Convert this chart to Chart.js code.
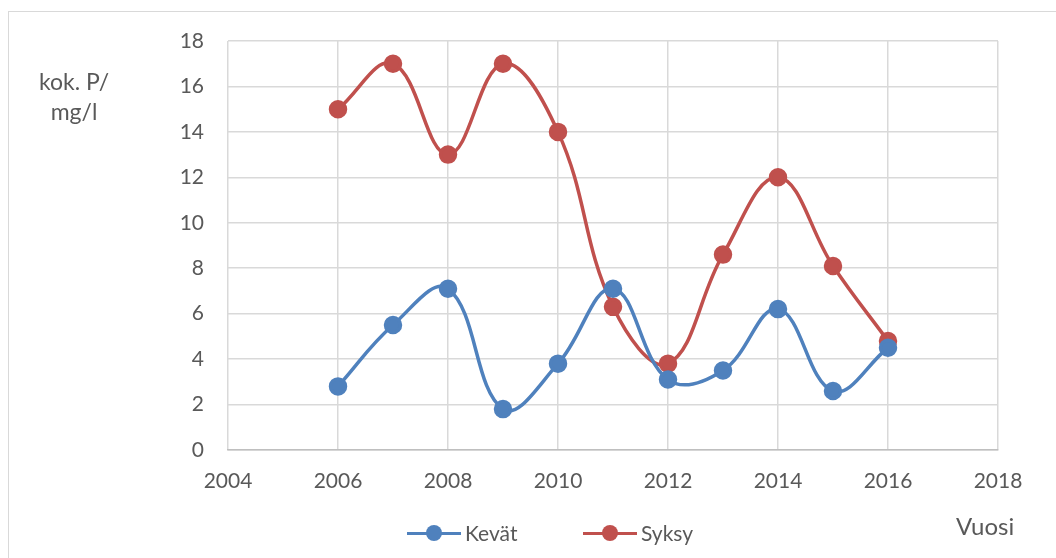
<!DOCTYPE html>
<html>
<head>
<meta charset="utf-8">
<script src="https://cdn.jsdelivr.net/npm/chart.js@4/dist/chart.umd.min.js"></script>
<style>
  html, body { margin: 0; padding: 0; background: #fff; }
  #wrap { position: relative; width: 1056px; height: 558px; overflow: hidden; font-family: Lato, "Open Sans", sans-serif; color: #595959; }
  #frame { position: absolute; left: 8px; top: 11px; width: 1100px; height: 600px; border-top: 1px solid #d9d9d9; border-left: 1px solid #d9d9d9; }
  canvas { position: absolute; left: 0; top: 0; }
  .ytitle { position: absolute; left: 18px; top: 66px; width: 112px; text-align: center; font-size: 23px; line-height: 30px; }
  .xtitle { position: absolute; left: 956px; top: 511px; font-size: 24px; line-height: 30px; }
  #legend { position: absolute; top: 520px; left: 0; width: 1056px; height: 28px; }
  .item { position: absolute; top: 0; height: 28px; font-size: 21px; line-height: 28px; }
  .item .ln { position: absolute; left: 0; top: 12px; width: 54px; height: 3px; }
  .item .dot { position: absolute; left: 19px; top: 5px; width: 16px; height: 16px; border-radius: 50%; }
  .item .tx { position: absolute; left: 58px; top: -1px; white-space: nowrap; }
</style>
</head>
<body>
<div id="wrap">
  <div id="frame"></div>
  <canvas id="c" width="1056" height="558"></canvas>
  <div class="ytitle">kok. P/<br>mg/l</div>
  <div class="xtitle">Vuosi</div>
  <div id="legend"></div>
</div>
<script>
// Sampling years and total phosphorus readings (mg/l)
const years = [2006, 2007, 2008, 2009, 2010, 2011, 2012, 2013, 2014, 2015, 2016];
const kevat = [2.8, 5.5, 7.1, 1.8, 3.8, 7.1, 3.1, 3.5, 6.2, 2.6, 4.5];
const syksy = [15.0, 17.0, 13.0, 17.0, 14.0, 6.3, 3.8, 8.6, 12.0, 8.1, 4.8];
const seriesNames = ['Kevät', 'Syksy'];
const seriesColors = ['#4f81bd', '#c0504d'];
const xRange = [2004, 2018];
const yRange = [0, 18];

function toPoints(vals) {
  return years.map((y, i) => ({ x: y, y: vals[i] }));
}

const datasets = [kevat, syksy].map((vals, i) => ({
  label: seriesNames[i],
  data: toPoints(vals),
  borderColor: seriesColors[i],
  backgroundColor: seriesColors[i],
  pointBackgroundColor: seriesColors[i],
  pointBorderColor: seriesColors[i],
  borderWidth: 3.5,
  pointRadius: 7.5,
  pointHoverRadius: 7.5,
  tension: 0.4,
  fill: false
}));

const tickFont = { family: 'Lato, "Open Sans", sans-serif', size: 21 };

const chart = new Chart(document.getElementById('c'), {
  type: 'line',
  data: { datasets },
  options: {
    responsive: false,
    animation: false,
    layout: { autoPadding: false, padding: { left: 0, right: 58, top: 41, bottom: 68 } },
    plugins: { legend: { display: false }, tooltip: { enabled: false } },
    scales: {
      x: {
        type: 'linear',
        min: xRange[0], max: xRange[1],
        ticks: { stepSize: 2, color: '#595959', font: tickFont, padding: 19, callback: v => String(v) },
        grid: { color: '#d9d9d9', lineWidth: 1.5, drawTicks: false },
        border: { color: '#bfbfbf', width: 1.5 },
        afterFit: s => { s.height = 40; }
      },
      y: {
        min: yRange[0], max: yRange[1],
        ticks: { stepSize: 2, color: '#595959', font: tickFont, padding: 24 },
        grid: { color: '#d9d9d9', lineWidth: 1.5, drawTicks: false },
        border: { display: false },
        afterFit: s => { s.width = 228; }
      }
    }
  }
});

// Legend built from the chart's own datasets
const legend = document.getElementById('legend');
const starts = [407, 583];
chart.data.datasets.forEach((ds, i) => {
  const it = document.createElement('div');
  it.className = 'item';
  it.style.left = starts[i] + 'px';
  it.innerHTML = '<div class="ln" style="background:' + ds.borderColor + '"></div>' +
    '<div class="dot" style="background:' + ds.borderColor + '"></div>' +
    '<div class="tx">' + ds.label + '</div>';
  legend.appendChild(it);
});
</script>
</body>
</html>
